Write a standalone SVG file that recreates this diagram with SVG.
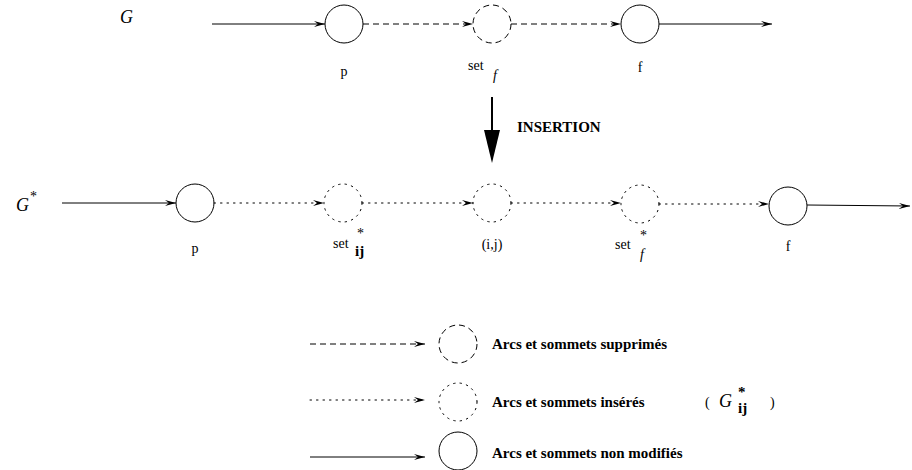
<svg xmlns="http://www.w3.org/2000/svg" width="912" height="470" viewBox="0 0 912 470">
<style>
.n{fill:none;stroke:#000;stroke-width:1}
.dash{stroke-dasharray:6 4}
.dot{stroke-dasharray:1.5 5;stroke-linecap:round}
.e{fill:none;stroke:#000;stroke-width:1}
text{fill:#000;font-family:"Liberation Serif","DejaVu Serif",serif}
.t{font-size:14px}
.b{font-size:15px;font-weight:bold}
.g{font-style:italic;font-size:18px}
</style>
<defs>
<marker id="a" markerWidth="12" markerHeight="8" refX="11" refY="4" orient="auto" markerUnits="userSpaceOnUse">
<path d="M0,1 L11,4 L0,7 L4,4 Z" fill="#000"/>
</marker>
</defs>
<rect width="912" height="470" fill="#fff"/>
<text class="g" x="120" y="23">G</text>
<g id="gstar"><text class="g" x="16" y="211">G</text><text class="t" x="30" y="201">*</text></g>
<g id="connectors">
<line class="e" x1="212" y1="24" x2="325" y2="24" marker-end="url(#a)"/>
<line class="e dash" x1="363" y1="24" x2="473" y2="24" marker-end="url(#a)"/>
<line class="e dash" x1="511" y1="24" x2="621" y2="24" marker-end="url(#a)"/>
<line class="e" x1="659" y1="24" x2="772" y2="24" marker-end="url(#a)"/>
<line x1="492" y1="97" x2="492" y2="135" stroke="#000" stroke-width="2"/>
<path d="M484,130 L500,130 L492,163 Z" fill="#000"/>
<line class="e" x1="62" y1="203" x2="176" y2="203" marker-end="url(#a)"/>
<line class="e dot" x1="214" y1="203" x2="324" y2="203" marker-end="url(#a)"/>
<line class="e dot" x1="362" y1="203" x2="473" y2="203" marker-end="url(#a)"/>
<line class="e dot" x1="511" y1="203" x2="621" y2="203" marker-end="url(#a)"/>
<line class="e dot" x1="659" y1="204" x2="769" y2="204" marker-end="url(#a)"/>
<line class="e" x1="807" y1="205" x2="910" y2="206" marker-end="url(#a)"/>
<line class="e dash" x1="310" y1="344" x2="425" y2="344" marker-end="url(#a)"/>
<line class="e dot" x1="310" y1="400" x2="425" y2="400" marker-end="url(#a)"/>
<line class="e" x1="310" y1="457" x2="425" y2="457" marker-end="url(#a)"/>
</g>
<text class="b" x="517" y="132">INSERTION</text>
<g id="n-p1"><circle class="n" cx="344" cy="24" r="19"/><text class="t" x="344" y="76" text-anchor="middle">p</text></g>
<g id="n-setf"><circle class="n dash" cx="492" cy="24" r="19"/><text class="t" x="468" y="70">set</text><text class="t" x="493" y="80" font-style="italic">f</text></g>
<g id="n-f1"><circle class="n" cx="640" cy="24" r="19"/><text class="t" x="640" y="72" text-anchor="middle">f</text></g>
<g id="n-p2"><circle class="n" cx="195" cy="203" r="19"/><text class="t" x="195" y="253" text-anchor="middle">p</text></g>
<g id="n-setij"><circle class="n dot" cx="343" cy="203" r="19"/><text class="t" x="333" y="248">set</text><text class="t" x="357" y="238">*</text><text class="b" x="355" y="256">ij</text></g>
<g id="n-ij"><circle class="n dot" cx="492" cy="203" r="19"/><text class="t" x="492" y="249" text-anchor="middle">(i,j)</text></g>
<g id="n-setf2"><circle class="n dot" cx="640" cy="204" r="19"/><text class="t" x="615" y="249">set</text><text class="t" x="640" y="240">*</text><text class="t" x="640" y="259" font-style="italic">f</text></g>
<g id="n-f2"><circle class="n" cx="788" cy="206" r="19"/><text class="t" x="788" y="251" text-anchor="middle">f</text></g>
<g id="legend-del"><circle class="n dash" cx="458" cy="344" r="19"/><text class="b" x="492" y="349">Arcs et sommets supprimés</text></g>
<g id="legend-ins"><circle class="n dot" cx="458" cy="402" r="19"/><text class="b" x="492" y="407">Arcs et sommets insérés</text><text class="t" x="705" y="407">(</text><text class="g" x="719" y="407" font-size="16">G</text><text class="b" x="738" y="397">*</text><text class="b" x="738" y="413">ij</text><text class="t" x="770" y="407">)</text></g>
<g id="legend-keep"><circle class="n" cx="458" cy="451" r="19"/><text class="b" x="492" y="458">Arcs et sommets non modifiés</text></g>
</svg>
